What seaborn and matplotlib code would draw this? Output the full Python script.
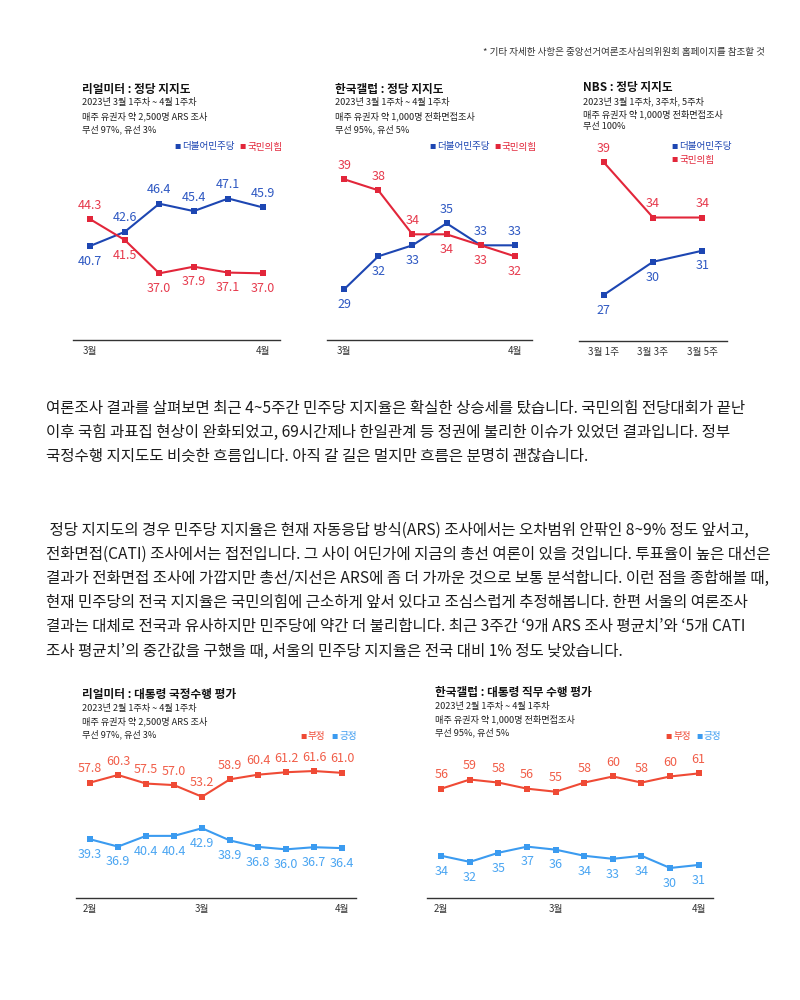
import numpy as np
import matplotlib
matplotlib.use("Agg")
import matplotlib.pyplot as plt
import seaborn as sns

sns.set_style("white")
plt.rcParams['font.family'] = ['Noto Sans CJK KR', 'DejaVu Sans']

# ---------------- data ----------------
rm_party_dem = [40.7, 42.6, 46.4, 45.4, 47.1, 45.9]
rm_party_ppp = [44.3, 41.5, 37.0, 37.9, 37.1, 37.0]
rm_party_ticks = {0: "3월", 5: "4월"}

gl_party_dem = [29, 32, 33, 35, 33, 33]
gl_party_ppp = [39, 38, 34, 34, 33, 32]
gl_party_ticks = {0: "3월", 5: "4월"}

nbs_party_dem = [27, 30, 31]
nbs_party_ppp = [39, 34, 34]
nbs_party_ticks = {0: "3월 1주", 1: "3월 3주", 2: "3월 5주"}

rm_pres_neg = [57.8, 60.3, 57.5, 57.0, 53.2, 58.9, 60.4, 61.2, 61.6, 61.0]
rm_pres_pos = [39.3, 36.9, 40.4, 40.4, 42.9, 38.9, 36.8, 36.0, 36.7, 36.4]
rm_pres_ticks = {0: "2월", 4: "3월", 9: "4월"}

gl_pres_neg = [56, 59, 58, 56, 55, 58, 60, 58, 60, 61]
gl_pres_pos = [34, 32, 35, 37, 36, 34, 33, 34, 30, 31]
gl_pres_ticks = {0: "2월", 4: "3월", 9: "4월"}

party_names = ["더불어민주당", "국민의힘"]
pres_names = ["부정", "긍정"]

para1 = [
    "여론조사 결과를 살펴보면 최근 4~5주간 민주당 지지율은 확실한 상승세를 탔습니다. 국민의힘 전당대회가 끝난",
    "이후 국힘 과표집 현상이 완화되었고, 69시간제나 한일관계 등 정권에 불리한 이슈가 있었던 결과입니다. 정부",
    "국정수행 지지도도 비슷한 흐름입니다. 아직 갈 길은 멀지만 흐름은 분명히 괜찮습니다.",
]
para2 = [
    " 정당 지지도의 경우 민주당 지지율은 현재 자동응답 방식(ARS) 조사에서는 오차범위 안팎인 8~9% 정도 앞서고,",
    "전화면접(CATI) 조사에서는 접전입니다. 그 사이 어딘가에 지금의 총선 여론이 있을 것입니다. 투표율이 높은 대선은",
    "결과가 전화면접 조사에 가깝지만 총선/지선은 ARS에 좀 더 가까운 것으로 보통 분석합니다. 이런 점을 종합해볼 때,",
    "현재 민주당의 전국 지지율은 국민의힘에 근소하게 앞서 있다고 조심스럽게 추정해봅니다. 한편 서울의 여론조사",
    "결과는 대체로 전국과 유사하지만 민주당에 약간 더 불리합니다. 최근 3주간 ‘9개 ARS 조사 평균치’와 ‘5개 CATI",
    "조사 평균치’의 중간값을 구했을 때, 서울의 민주당 지지율은 전국 대비 1% 정도 낮았습니다.",
]

# ---------------- style ----------------
BLUE, BLUE_T = "#1d46b2", "#2e58c2"
RED, RED_T = "#e2263a", "#e63a4d"
ORANGE, ORANGE_T = "#ef4a35", "#f15d48"
SKY, SKY_T = "#3b9bf0", "#4aa5f2"
AXC = "#333333"
TXT = "#1c1c1c"

W, H = 800, 1000
fig = plt.figure(figsize=(8, 10), dpi=100)
fig.patch.set_facecolor("white")


def fx(x):
    return x / W


def fy(y):
    return 1 - y / H


def put(x, y, s, **kw):
    fig.text(fx(x), fy(y), s, va="center", **kw)


def chart(box, ylim, series, colors, tcolors, ticks, fmt):
    x0, x1, ytop, ybot = box
    ax = fig.add_axes([fx(x0), fy(ybot), (x1 - x0) / W, (ybot - ytop) / H])
    n = len(series[0])
    idx = np.arange(n)
    for vals, c in zip(series, colors):
        sns.lineplot(x=idx, y=vals, ax=ax, color=c, linewidth=1.5, marker="s",
                     markersize=4.2, markeredgewidth=0, legend=False, clip_on=False)
    for i in range(n):
        a, b = series[0][i], series[1][i]
        first_up = a >= b
        for k, (vals, tc) in enumerate(zip(series, tcolors)):
            up = first_up if k == 0 else not first_up
            ax.annotate(fmt(vals[i]), (i, vals[i]), xytext=(0, 10 if up else -11),
                        textcoords="offset points", ha="center", va="center",
                        fontsize=9, color=tc)
    ax.set_xlim(-0.5, n - 0.5)
    ax.set_ylim(*ylim)
    for s in ["top", "left", "right"]:
        ax.spines[s].set_visible(False)
    ax.spines["bottom"].set_color(AXC)
    ax.spines["bottom"].set_linewidth(1.0)
    ax.set_yticks([])
    ax.set_xticks(list(ticks.keys()))
    ax.set_xticklabels(list(ticks.values()), fontsize=7, color=AXC)
    ax.set_xticks(np.arange(-0.5, n, 1.0), minor=True)
    ax.tick_params(axis="x", which="major", length=0, pad=4.5)
    ax.tick_params(axis="x", which="minor", length=5, width=1.0, color=AXC, direction="in")
    ax.set_facecolor("none")
    ax.set_xlabel("")
    ax.set_ylabel("")
    return ax


def header(x, y, title, subs):
    put(x, y, title, fontsize=8.4, fontweight="bold", color="#111111")
    for k, s in enumerate(subs):
        put(x, y + 14 + 13 * k, s, fontsize=6.6, color="#222222")


def legend_item(x, y, label, color):
    put(x, y, "■", fontsize=4.5, color=color)
    put(x + 8, y, label, fontsize=6.9, color=color)


# top note
put(765, 52, "* 기타 자세한 사항은 중앙선거여론조사심의위원회 홈페이지를 참조할 것",
    fontsize=6.9, color="#333333", ha="right")

# chart 1
header(82, 89, "리얼미터 : 정당 지지도",
       ["2023년 3월 1주차 ~ 4월 1주차", "매주 유권자 약 2,500명 ARS 조사", "무선 97%, 유선 3%"])
legend_item(174, 147, party_names[0], BLUE)
legend_item(239, 147, party_names[1], RED)
chart((73, 280, 160, 340), (28.0, 52.3), [rm_party_dem, rm_party_ppp], [BLUE, RED],
      [BLUE_T, RED_T], rm_party_ticks, lambda v: f"{v:.1f}")

# chart 2
header(335, 89, "한국갤럽 : 정당 지지도",
       ["2023년 3월 1주차 ~ 4월 1주차", "매주 유권자 약 1,000명 전화면접조사", "무선 95%, 유선 5%"])
legend_item(429, 147, party_names[0], BLUE)
legend_item(494, 147, party_names[1], RED)
chart((327, 532, 160, 340), (24.4, 40.75), [gl_party_dem, gl_party_ppp], [BLUE, RED],
      [BLUE_T, RED_T], gl_party_ticks, lambda v: f"{v:d}")

# chart 3
header(583, 87, "NBS : 정당 지지도",
       ["2023년 3월 1주차, 3주차, 5주차", "매주 유권자 약 1,000명 전화면접조사", "무선 100%"])
legend_item(671, 147, party_names[0], BLUE)
legend_item(671, 160, party_names[1], RED)
chart((579, 727, 150, 340.7), (22.87, 40.1), [nbs_party_dem, nbs_party_ppp], [BLUE, RED],
      [BLUE_T, RED_T], nbs_party_ticks, lambda v: f"{v:d}")

# paragraphs
for k, line in enumerate(para1):
    put(46, 408 + 24 * k, line, fontsize=11.2, color=TXT)
for k, line in enumerate(para2):
    put(46, 530 + 24.2 * k, line, fontsize=11.2, color=TXT)

# chart 4
header(82, 694, "리얼미터 : 대통령 국정수행 평가",
       ["2023년 2월 1주차 ~ 4월 1주차", "매주 유권자 약 2,500명 ARS 조사", "무선 97%, 유선 3%"])
legend_item(300, 737, pres_names[0], ORANGE)
legend_item(331, 737, pres_names[1], SKY)
chart((76, 356, 760, 898), (20.1, 65.2), [rm_pres_neg, rm_pres_pos], [ORANGE, SKY],
      [ORANGE_T, SKY_T], rm_pres_ticks, lambda v: f"{v:.1f}")

# chart 5
header(435, 692, "한국갤럽 : 대통령 직무 수행 평가",
       ["2023년 2월 1주차 ~ 4월 1주차", "매주 유권자 약 1,000명 전화면접조사", "무선 95%, 유선 5%"])
legend_item(665, 737, pres_names[0], ORANGE)
legend_item(696, 737, pres_names[1], SKY)
chart((427, 713, 760, 898), (20.16, 65.4), [gl_pres_neg, gl_pres_pos], [ORANGE, SKY],
      [ORANGE_T, SKY_T], gl_pres_ticks, lambda v: f"{v:d}")

fig.savefig("out.png", dpi=100, facecolor="white")
